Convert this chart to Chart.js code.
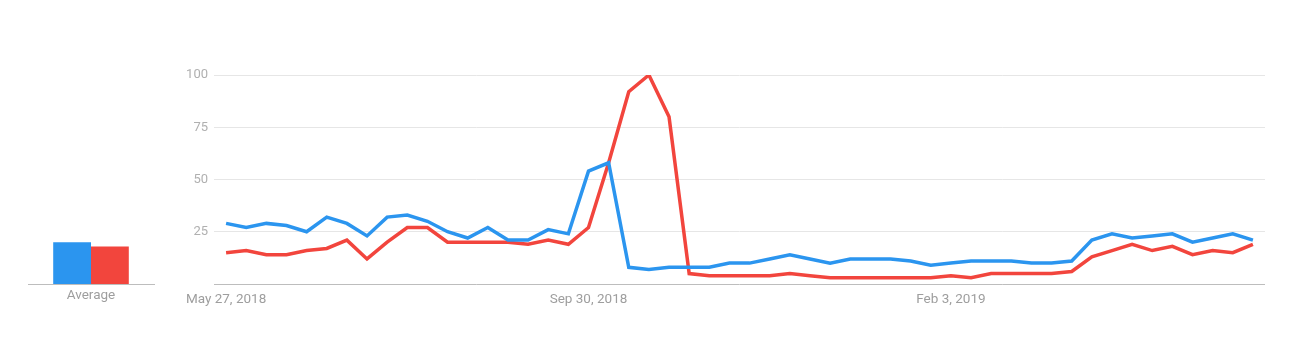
<!DOCTYPE html>
<html>
<head>
<meta charset="utf-8">
<script src="https://cdn.jsdelivr.net/npm/chart.js@4.4.0/dist/chart.umd.min.js"></script>
<style>
  body { margin: 0; background: #fff; font-family: Roboto, sans-serif; }
  #wrap { position: relative; width: 1300px; height: 357px; }
  #main-chart, #avg-chart { position: absolute; left: 0; top: 0; }
</style>
</head>
<body>
<div id="wrap">
  <canvas id="main-chart" width="1300" height="357"></canvas>
  <canvas id="avg-chart" width="180" height="357"></canvas>
</div>
<script>
// weekly interest, 52 weeks starting May 27, 2018
const blueValues = [29, 27, 29, 28, 25, 32, 29, 23, 32, 33, 30, 25, 22, 27, 21, 21, 26, 24, 54, 58,
                    8, 7, 8, 8, 8, 10, 10, 12, 14, 12, 10, 12, 12, 12, 11, 9, 10, 11, 11, 11,
                    10, 10, 11, 21, 24, 22, 23, 24, 20, 22, 24, 21];
const redValues = [15, 16, 14, 14, 16, 17, 21, 12, 20, 27, 27, 20, 20, 20, 20, 19, 21, 19, 27, 58,
                   92, 100, 80, 5, 4, 4, 4, 4, 5, 4, 3, 3, 3, 3, 3, 3, 4, 3, 5, 5,
                   5, 5, 6, 13, 16, 19, 16, 18, 14, 16, 15, 19];
const avgBlue = [20];
const avgRed = [18];
const avgLabels = ['Average'];
const xTickIndex = [0, 18, 36];
const xTickLabels = ['May 27, 2018', 'Sep 30, 2018', 'Feb 3, 2019'];
const yTicks = [0, 25, 50, 75, 100];

const BLUE = '#2b95ef';
const RED = '#f2453d';
const LABEL_COLOR = '#9e9e9e';
const FONT = { family: 'Roboto', size: 13.5 };

function toPoints(values) {
    return values.map((v, i) => ({ x: i, y: v }));
}

new Chart(document.getElementById('main-chart'), {
    type: 'line',
    data: {
        datasets: [
            { data: toPoints(blueValues), borderColor: BLUE, borderWidth: 3.5, pointRadius: 0, tension: 0 },
            { data: toPoints(redValues), borderColor: RED, borderWidth: 3.5, pointRadius: 0, tension: 0 }
        ]
    },
    options: {
        responsive: false,
        animation: false,
        layout: { padding: { top: 75, right: 35, left: 0, bottom: 0 } },
        plugins: { legend: { display: false }, tooltip: { enabled: false } },
        scales: {
            x: {
                type: 'linear',
                min: -0.6,
                max: 51.6,
                grid: { display: false },
                border: { display: false },
                afterBuildTicks: scale => { scale.ticks = xTickIndex.map(v => ({ value: v })); },
                afterFit: scale => { scale.height = 73; },
                ticks: {
                    autoSkip: false,
                    maxRotation: 0,
                    padding: 0,
                    color: LABEL_COLOR,
                    font: FONT,
                    callback: v => xTickLabels[xTickIndex.indexOf(v)]
                }
            },
            y: {
                min: 0,
                max: 100,
                afterBuildTicks: scale => { scale.ticks = yTicks.map(v => ({ value: v })); },
                afterFit: scale => { scale.width = 214; },
                border: { display: false },
                grid: {
                    drawTicks: false,
                    lineWidth: 1,
                    color: ctx => ctx.tick && ctx.tick.value === 0 ? '#bdbdbd' : '#e6e6e6'
                },
                ticks: {
                    padding: 6,
                    color: '#b0b0b0',
                    font: { family: 'Roboto', size: 13 },
                    callback: v => v === 0 ? '' : v
                }
            }
        }
    }
});

new Chart(document.getElementById('avg-chart'), {
    type: 'bar',
    data: {
        labels: avgLabels,
        datasets: [
            { data: avgBlue, backgroundColor: BLUE, categoryPercentage: 0.6, barPercentage: 1 },
            { data: avgRed, backgroundColor: RED, categoryPercentage: 0.6, barPercentage: 1 }
        ]
    },
    options: {
        responsive: false,
        animation: false,
        layout: { padding: { top: 75, right: 26, left: 28, bottom: 0 } },
        plugins: { legend: { display: false }, tooltip: { enabled: false } },
        scales: {
            x: {
                grid: { display: false, drawTicks: false },
                border: { color: '#bdbdbd', width: 1 },
                afterFit: scale => { scale.height = 73; },
                ticks: { padding: 4, color: LABEL_COLOR, font: FONT }
            },
            y: { display: false, min: 0, max: 100 }
        }
    }
});
</script>
</body>
</html>
